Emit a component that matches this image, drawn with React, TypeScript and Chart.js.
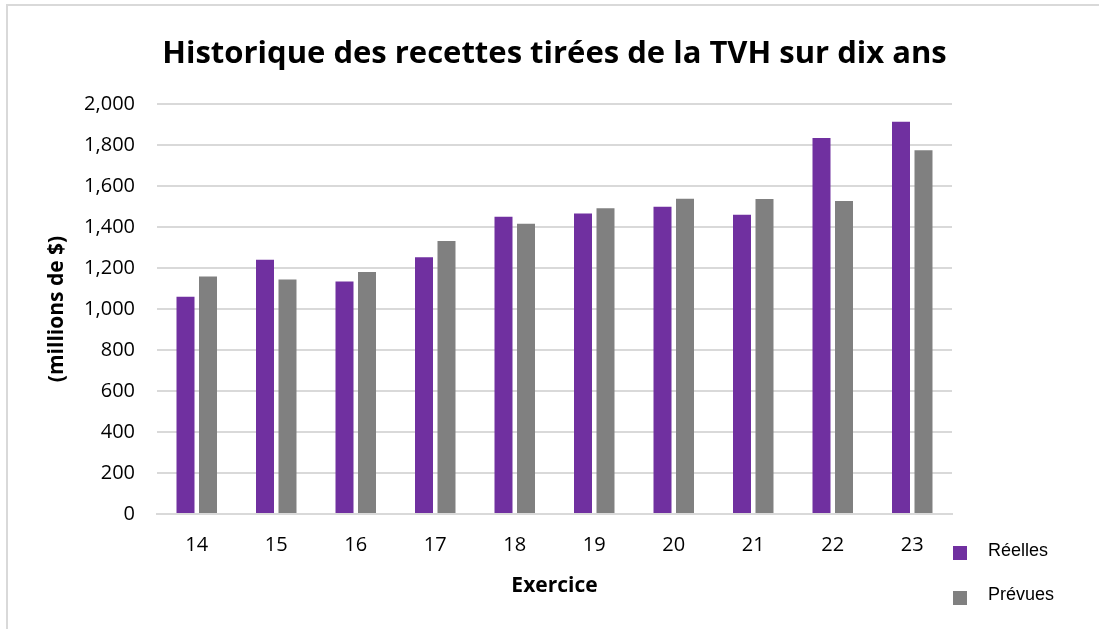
import React, { useEffect, useRef } from "react";
import { Chart, registerables } from "chart.js";

Chart.register(...registerables);

const categories = ["14", "15", "16", "17", "18", "19", "20", "21", "22", "23"];
const reelles = [1060, 1240, 1134, 1253, 1450, 1466, 1499, 1460, 1834, 1914];
const prevues = [1158, 1144, 1181, 1332, 1416, 1491, 1538, 1536, 1527, 1774];
const seriesNames = ["Réelles", "Prévues"];
const seriesColors = ["#7030A0", "#808080"];
const chartTitle = "Historique des recettes tirées de la TVH sur dix ans";
const yTitle = "(millions de $)";
const xTitle = "Exercice";

const decorPlugin = {
  id: "decor",
  afterDraw(chart: any) {
    const { ctx, chartArea } = chart;
    ctx.save();
    // title
    ctx.fillStyle = "#000";
    ctx.font = "bold 31px 'Open Sans', sans-serif";
    ctx.textAlign = "center";
    ctx.textBaseline = "alphabetic";
    ctx.fillText(chartTitle, (chartArea.left + chartArea.right) / 2, 63);
    // legend
    const x = chartArea.right + 1;
    const rows = [chartArea.bottom + 32, chartArea.bottom + 77];
    const textOffsets = [5, 4];
    chart.data.datasets.forEach((ds: any, i: number) => {
      const y = rows[i];
      ctx.fillStyle = ds.backgroundColor;
      ctx.fillRect(x, y, 14, 14);
      ctx.fillStyle = "#000";
      ctx.font = "18px 'Liberation Sans', Arial, sans-serif";
      ctx.textBaseline = "middle";
      ctx.textAlign = "left";
      ctx.fillText(ds.label, x + 35, y + textOffsets[i]);
    });
    ctx.restore();
  },
};

export default function App() {
  const ref = useRef<HTMLCanvasElement>(null);
  useEffect(() => {
    if (!ref.current) return;
    const chart = new Chart(ref.current, {
      type: "bar",
      data: {
        labels: categories,
        datasets: [
          { label: seriesNames[0], data: reelles, backgroundColor: seriesColors[0] },
          { label: seriesNames[1], data: prevues, backgroundColor: seriesColors[1] },
        ],
      },
      plugins: [decorPlugin],
      options: {
        animation: false,
        responsive: false,
        maintainAspectRatio: false,
        locale: "en-US",
        layout: { padding: { left: 0, right: 147, top: 104, bottom: 16 } },
        datasets: { bar: { categoryPercentage: 0.566, barPercentage: 0.8 } },
        plugins: {
          legend: { display: false },
          tooltip: { enabled: false },
          title: { display: false },
        },
        scales: {
          x: {
            afterFit(scale: any) {
              scale.height = 99;
            },
            grid: { display: false },
            border: { display: true, color: "#d9d9d9", width: 2 },
            ticks: {
              color: "#000",
              font: { family: "'Open Sans', sans-serif", size: 20 },
              padding: 11,
              maxRotation: 0,
            },
            title: {
              display: true,
              text: xTitle,
              color: "#000",
              font: { family: "'Open Sans', sans-serif", size: 21, weight: "bold" },
              padding: { top: 12, bottom: 14 },
            },
          },
          y: {
            min: 0,
            max: 2000,
            afterFit(scale: any) {
              scale.width = 157;
            },
            grid: { color: "#d9d9d9", lineWidth: 2, drawTicks: false },
            border: { display: false },
            ticks: {
              stepSize: 200,
              color: "#000",
              font: { family: "'Open Sans', sans-serif", size: 20 },
              padding: 22,
              callback: (v: any) => Number(v).toLocaleString("en-US"),
            },
            title: {
              display: true,
              text: yTitle,
              color: "#000",
              font: { family: "'Open Sans', sans-serif", size: 21, weight: "bold" },
              padding: { top: 44, bottom: 0 },
            },
          },
        },
      },
    });
    return () => chart.destroy();
  }, []);
  return (
    <div style={{ position: "fixed", left: 0, top: 0, width: 1099, height: 629, overflow: "hidden", background: "#fff" }}>
      <div style={{ position: "absolute", left: 6, top: 4, width: 1300, height: 900, border: "2px solid #d9d9d9" }} />
      <canvas ref={ref} width={1099} height={629} style={{ position: "absolute", left: 0, top: 0 }} />
    </div>
  );
}
